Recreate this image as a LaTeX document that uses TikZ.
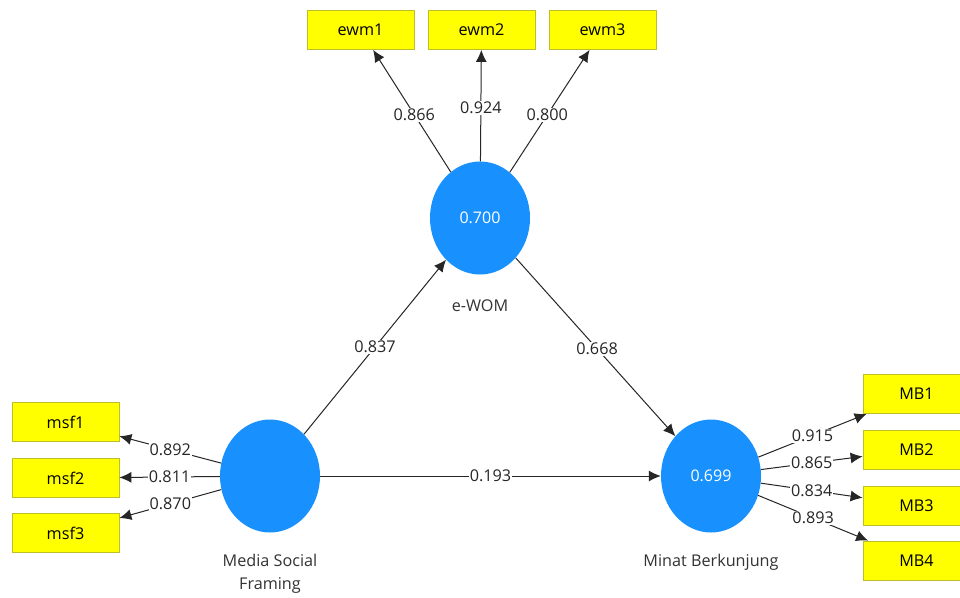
\documentclass[tikz,border=0pt]{standalone}
\usepackage{fontspec}
\setmainfont{Open Sans}
\usetikzlibrary{shapes.geometric,arrows.meta}
\definecolor{lvblue}{RGB}{24,145,255}
\definecolor{indyel}{RGB}{255,255,0}
\definecolor{indborder}{RGB}{190,190,40}
\tikzset{
  latent/.style={ellipse,fill=lvblue,draw=none,minimum width=100pt,minimum height=113pt,inner sep=0pt,text=white,font=\fontsize{16}{18}\selectfont},
  indicator/.style={rectangle,fill=indyel,draw=indborder,line width=0.8pt,minimum width=107pt,minimum height=39pt,inner sep=0pt,font=\fontsize{16.2}{18}\selectfont},
  conn/.style={draw=black!85,line width=1pt,-{Latex[length=12pt,width=11pt]}},
  coef/.style={fill=white,inner sep=1pt,font=\fontsize{16.2}{18}\selectfont,text=black!85},
  caption/.style={font=\fontsize{16.2}{23}\selectfont,align=center,text=black!80}
}
\begin{document}
\begin{tikzpicture}[x=1pt,y=-1pt]
\useasboundingbox (0,0) rectangle (960,597);
\clip (0,0) rectangle (960,597);
\fill[white] (0,0) rectangle (960,597);
% latent variables
\node[latent] (ewom) at (480,218) {0.700};
\node[latent] (msf) at (270,476) {};
\node[latent] (mb) at (711,476) {0.699};
\node[caption] (ewomlab) at (480,306) {e-WOM};
\node[caption] (msflab) at (270,574) {Media Social\\Framing};
\node[caption] (mblab) at (711,562) {Minat Berkunjung};
% indicators
\node[indicator] (ewm1) at (360.5,30) {ewm1};
\node[indicator] (ewm2) at (481.5,30) {ewm2};
\node[indicator] (ewm3) at (602.5,30) {ewm3};
\node[indicator] (msf1) at (65.5,422) {msf1};
\node[indicator] (msf2) at (65.5,478) {msf2};
\node[indicator] (msf3) at (65.5,533) {msf3};
\node[indicator] (mb1) at (916.5,394) {MB1};
\node[indicator] (mb2) at (916.5,449.5) {MB2};
\node[indicator] (mb3) at (916.5,505.5) {MB3};
\node[indicator] (mb4) at (916.5,560.5) {MB4};
% outer loadings
\draw[conn] (ewom) -- node[coef,pos=0.47] {0.866} (ewm1);
\draw[conn] (ewom) -- node[coef,pos=0.48] {0.924} (ewm2);
\draw[conn] (ewom) -- node[coef,pos=0.47] {0.800} (ewm3);
\draw[conn] (msf) -- node[coef,pos=0.5] {0.892} (msf1);
\draw[conn] (msf) -- node[coef,pos=0.5] {0.811} (msf2);
\draw[conn] (msf) -- node[coef,pos=0.5] {0.870} (msf3);
\draw[conn] (mb) -- node[coef,pos=0.5] {0.915} (mb1);
\draw[conn] (mb) -- node[coef,pos=0.5] {0.865} (mb2);
\draw[conn] (mb) -- node[coef,pos=0.5] {0.834} (mb3);
\draw[conn] (mb) -- node[coef,pos=0.5] {0.893} (mb4);
% path coefficients
\draw[conn] (msf) -- node[coef,pos=0.5] {0.837} (ewom);
\draw[conn] (ewom) -- node[coef,pos=0.51] {0.668} (mb);
\draw[conn] (msf) -- node[coef,pos=0.5] {0.193} (mb);
\end{tikzpicture}
\end{document}
